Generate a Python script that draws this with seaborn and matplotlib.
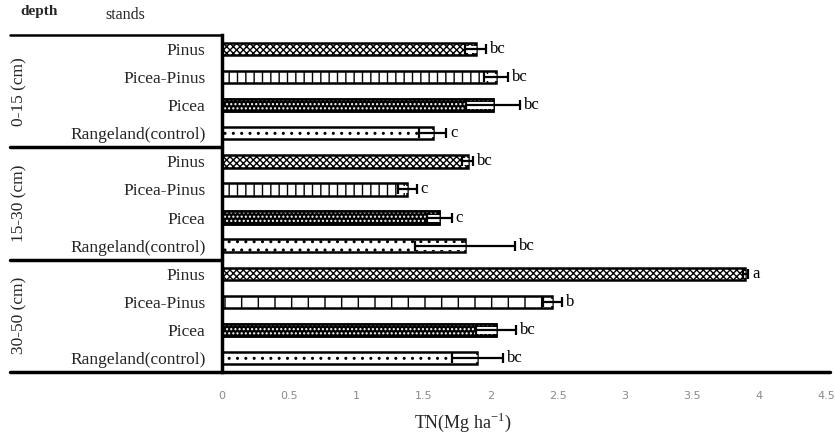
import numpy as np
import pandas as pd
import matplotlib
matplotlib.use("Agg")
import matplotlib.pyplot as plt
from matplotlib.patches import Rectangle
import seaborn as sns

# ---- data ----
depths = ["0-15 (cm)", "15-30 (cm)", "30-50 (cm)"]
stands = ["Pinus", "Picea-Pinus", "Picea", "Rangeland(control)"]
tn_0_15 = [1.89, 2.04, 2.02, 1.57]
tn_15_30 = [1.83, 1.38, 1.62, 1.81]
tn_30_50 = [3.90, 2.46, 2.04, 1.90]
err_0_15 = [0.08, 0.09, 0.20, 0.10]
err_15_30 = [0.04, 0.07, 0.09, 0.37]
err_30_50 = [0.02, 0.07, 0.15, 0.19]
letters_0_15 = ["bc", "bc", "bc", "c"]
letters_15_30 = ["bc", "c", "c", "bc"]
letters_30_50 = ["a", "b", "bc", "bc"]
xticks = [0, 0.5, 1, 1.5, 2, 2.5, 3, 3.5, 4, 4.5]

rows = []
for d, vals, errs, lets in zip(depths, [tn_0_15, tn_15_30, tn_30_50],
                               [err_0_15, err_15_30, err_30_50],
                               [letters_0_15, letters_15_30, letters_30_50]):
    for s, v, e, l in zip(stands, vals, errs, lets):
        rows.append({"depth": d, "stand": s, "row": f"{d}|{s}", "TN": v, "err": e, "letter": l})
df = pd.DataFrame(rows)

sns.set_theme(style="white")
plt.rcParams["font.family"] = ["Liberation Serif", "DejaVu Serif"]
plt.rcParams["hatch.linewidth"] = 1.0

fig = plt.figure(figsize=(8.35, 4.38), dpi=100)
ax = fig.add_axes([222 / 835, 1 - 372 / 438, 604 / 835, 337 / 438])

sns.barplot(data=df, x="TN", y="row", orient="h", color="white", width=0.44,
            edgecolor="black", linewidth=1.8, errorbar=None, ax=ax)

hatch_map = {"Pinus": "xxxxx", "Picea-Pinus": "||", "Rangeland(control)": ".."}
for p, r in zip(list(ax.patches), df.itertuples()):
    if r.stand == "Picea":
        # black bar with white dots
        p.set_facecolor("black")
        x0, y0 = p.get_xy()
        ax.add_patch(Rectangle((x0, y0), p.get_width(), p.get_height(), facecolor="none",
                               edgecolor="white", hatch="....", lw=0, zorder=p.get_zorder() + 0.1))
        ax.add_patch(Rectangle((x0, y0), p.get_width(), p.get_height(), facecolor="none",
                               edgecolor="black", lw=1.8, zorder=p.get_zorder() + 0.2))
    else:
        h = hatch_map[r.stand]
        if r.stand == "Picea-Pinus" and r.depth == "30-50 (cm)":
            h = "|"
        p.set_hatch(h)

ypos = np.arange(len(df))
# minus half of the error bar sits inside the bar
ax.hlines(ypos, df["TN"] - df["err"], df["TN"], color="white", lw=5, zorder=4)
ax.errorbar(df["TN"], ypos, xerr=df["err"], fmt="none", ecolor="black",
            elinewidth=1.6, capsize=3.5, capthick=1.6, zorder=5)
for y, r in zip(ypos, df.itertuples()):
    ax.text(r.TN + r.err + 0.03, y, r.letter, ha="left", va="center", fontsize=12, color="black")

ax.set_xlim(0, 4.5)
ax.set_ylim(11.5, -0.5)
ax.set_xticks(xticks)
ax.set_xticklabels([f"{t:g}" for t in xticks], fontsize=8, color="#8a8a8a",
                   family=["DejaVu Sans"])
ax.tick_params(axis="x", length=0, pad=14)
ax.set_yticks(ypos)
ax.set_yticklabels(df["stand"], fontsize=12.5)
ax.tick_params(axis="y", length=0, pad=12)
ax.set_xlabel("")
ax.set_ylabel("")
for side in ["top", "right", "bottom"]:
    ax.spines[side].set_visible(False)
ax.spines["left"].set_color("black")
ax.spines["left"].set_linewidth(2.5)

# table-like rules on the left side
tr = ax.get_yaxis_transform()
left_edge = (10 - 222) / 604
ax.plot([left_edge, 0], [-0.5, -0.5], transform=tr, color="black", lw=1.8, clip_on=False)
for yb in [3.5, 7.5]:
    ax.plot([left_edge, 0], [yb, yb], transform=tr, color="black", lw=2.5, clip_on=False)
ax.plot([left_edge, 1.007], [11.5, 11.5], transform=tr, color="black", lw=2.5, clip_on=False)

for k, d in enumerate(depths):
    ax.text(left_edge + 0.015, 4 * k + 1.5, d, transform=tr, rotation=90,
            ha="center", va="center", fontsize=12.5)

fig.text(20 / 835, 1 - 12 / 438, "depth", fontsize=11, fontweight="bold", va="center", ha="left")
fig.text(105 / 835, 1 - 15 / 438, "stands", fontsize=11.5, va="center", ha="left")
fig.text(463 / 835, 1 - 422 / 438, "TN(Mg ha$^{\\mathregular{-1}}$)", fontsize=13,
         ha="center", va="center")

fig.savefig("out.png", dpi=100)
